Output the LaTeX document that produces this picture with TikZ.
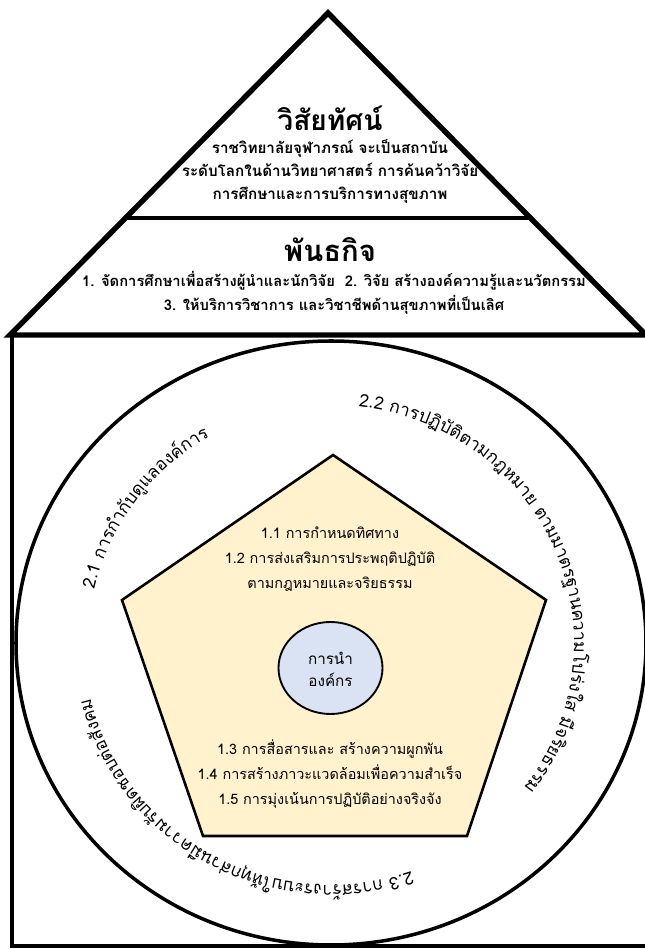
\documentclass[tikz,border=0pt]{standalone}
\usepackage{fontspec}
\newfontfamily\thai[Script=Thai]{Loma}
\usetikzlibrary{calc,decorations.text}

\definecolor{pentafill}{HTML}{FFF2CC}
\definecolor{corefill}{HTML}{DAE3F3}

\tikzset{
  roof/.style={line width=4.6pt, line join=miter},
  wall/.style={line width=3.6pt},
  ring/.style={line width=3pt},
  penta/.style={line width=2.2pt, line join=miter, fill=pentafill},
  core/.style={line width=1.6pt, fill=corefill},
  headtext/.style={font=\thai\bfseries\fontsize{24}{28}\selectfont},
  bodytext/.style={font=\thai\bfseries\fontsize{13}{19.6}\selectfont, align=center},
  pentext/.style={font=\thai\fontsize{12.3}{21.5}\selectfont, align=center},
  arctext/.style={decorate, decoration={text along path, text align=left,
      text={|\thai\fontsize{15}{18}\selectfont|#1}}},
}

\begin{document}
\begin{tikzpicture}[x=0.3mm,y=0.3mm]
  \useasboundingbox (0,0) rectangle (645,949);
  \clip (0,0) rectangle (645,949);
  \coordinate (apex) at (328,936);
  \coordinate (eaveL) at (10,614);
  \coordinate (eaveR) at (646,614);
  \coordinate (o) at (331,306);

  \draw[wall] (12,614) -- (12,3) -- (660,3);
  \draw[roof] (eaveL) -- (apex) -- (eaveR) -- cycle;
  \draw[roof, line width=3pt] (125.5,731) -- (530.5,731);

  \draw[ring] (o) ellipse [x radius=315, y radius=302];
  \draw[penta] (333,494) -- (546,349) -- (467,113) -- (203,113) -- (122,349) -- cycle;
  \draw[core] (330.5,281) ellipse [x radius=52, y radius=46];

  \node[headtext] (vision) at (330,831) {วิสัยทัศน์};
  \node[bodytext] (visiontxt) at (330,778) {ราชวิทยาลัยจุฬาภรณ์ จะเป็นสถาบัน\\ระดับโลกในด้านวิทยาศาสตร์ การค้นคว้าวิจัย\\การศึกษาและการบริการทางสุขภาพ};
  \node[headtext, font=\thai\bfseries\fontsize{25}{28}\selectfont] (mission) at (330,699) {พันธกิจ};
  \node[bodytext, font=\thai\bfseries\fontsize{12.6}{20.5}\selectfont] (missiontxt) at (334,656) {1. จัดการศึกษาเพื่อสร้างผู้นำและนักวิจัย~~2. วิจัย สร้างองค์ความรู้และนวัตกรรม\\3. ให้บริการวิชาการ และวิชาชีพด้านสุขภาพที่เป็นเลิศ};

  \node[pentext] (lead1) at (330,390) {1.1 การกำหนดทิศทาง\\1.2 การส่งเสริมการประพฤติปฏิบัติ\\ตามกฎหมายและจริยธรรม};
  \node[pentext] (lead2) at (330,175) {1.3 การสื่อสารและ สร้างความผูกพัน\\1.4 การสร้างภาวะแวดล้อมเพื่อความสำเร็จ\\1.5 การมุ่งเน้นการปฏิบัติอย่างจริงจัง};
  \node[pentext, font=\thai\fontsize{13}{19}\selectfont] (core) at (330.5,280) {การนำ\\องค์กร};

  \path[arctext={2.1 การ{กำ}{กั}บ{ดู}แลอง{ค์}การ}]
    ($(o)+(167:243 and 238)$) arc[start angle=167, end angle=100, x radius=243, y radius=238];
  \path[arctext={2.2 การป{ฏิ}{บั}{ติ}ตามกฎหมาย ตามมาตรฐานความโป{ร่}งใส {มี}จ{ริ}ยธรรม}]
    ($(o)+(83.5:243 and 238)$) arc[start angle=83.5, end angle=-60, x radius=243, y radius=238];
  \path[arctext={2.3 การส{ร้}างระบบใ{ห้}{ทุ}ก{ส่}วน{มี}ความ{รั}บ{ผิ}ดชอบ{ต่}อ{สั}งคม}]
    ($(o)+(-71:247 and 242)$) arc[start angle=-71, end angle=-185, x radius=247, y radius=242];
\end{tikzpicture}
\end{document}
